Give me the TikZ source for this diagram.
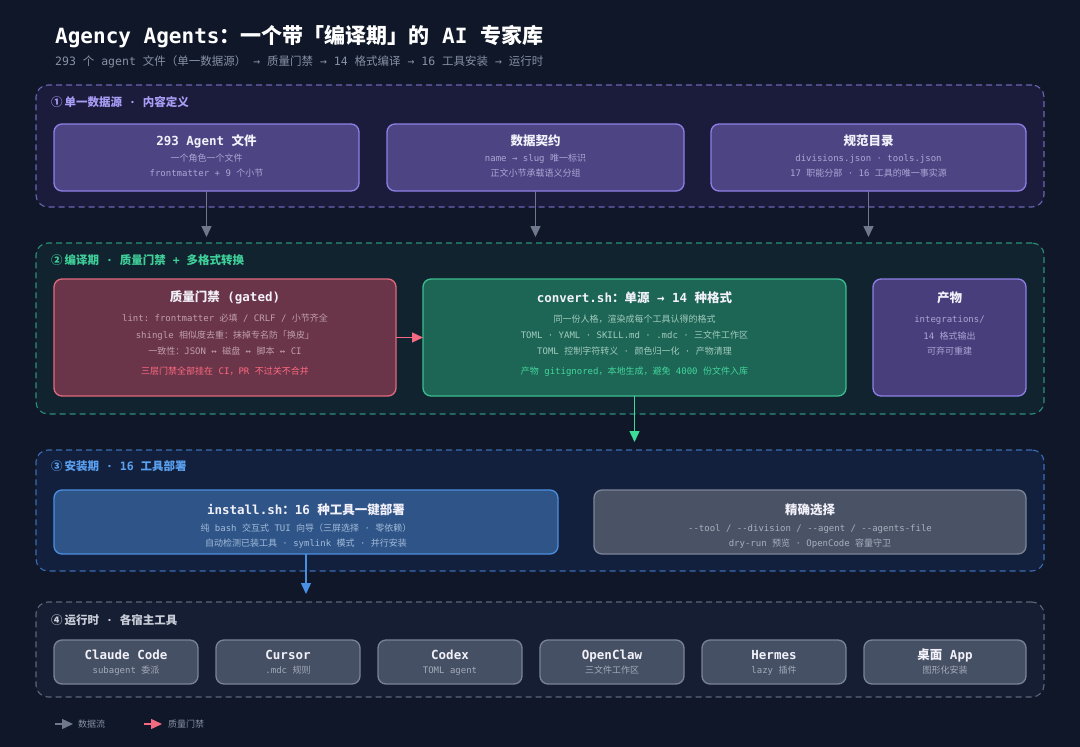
\documentclass[tikz,border=0pt]{standalone}
\usepackage{fontspec}
\setmonofont{DejaVu Sans Mono}
\renewcommand{\familydefault}{\ttdefault}
\newfontfamily\cjkfont{Noto Sans CJK SC}
\usetikzlibrary{arrows.meta}
% automatic switch to the CJK font for CJK characters
\XeTeXinterchartokenstate=1
\newXeTeXintercharclass\cjkcls
\newcount\cjkn
\def\cjkrange#1#2{\cjkn=#1\relax\loop\XeTeXcharclass\cjkn=\cjkcls\ifnum\cjkn<#2\advance\cjkn by 1\repeat}
\cjkrange{"3000}{"303F}
\cjkrange{"4E00}{"9FFF}
\cjkrange{"FF00}{"FFEF}
\cjkrange{"2460}{"24FF}
\XeTeXinterchartoks 0 \cjkcls = {\begingroup\cjkfont}
\XeTeXinterchartoks 4095 \cjkcls = {\begingroup\cjkfont}
\XeTeXinterchartoks \cjkcls 0 = {\endgroup}
\XeTeXinterchartoks \cjkcls 4095 = {\endgroup}

\definecolor{bg}{HTML}{0F1729}
\definecolor{titlecol}{HTML}{F2F1FA}
\definecolor{subtitlecol}{HTML}{8891A5}
% section 1
\definecolor{s1fill}{HTML}{1B1C3B}
\definecolor{s1line}{HTML}{6E64B4}
\definecolor{s1lab}{HTML}{A99DF5}
\definecolor{pfill}{HTML}{4D4583}
\definecolor{pline}{HTML}{8E80E6}
\definecolor{psub}{HTML}{ADA5D4}
% section 2
\definecolor{s2fill}{HTML}{122330}
\definecolor{s2line}{HTML}{2B8F77}
\definecolor{s2lab}{HTML}{3FCF98}
\definecolor{rfill}{HTML}{6A3449}
\definecolor{rline}{HTML}{E0697D}
\definecolor{rsub}{HTML}{C0A0AC}
\definecolor{rtext}{HTML}{FF6B81}
\definecolor{gfill}{HTML}{1D6656}
\definecolor{gline}{HTML}{3BBD8E}
\definecolor{gsub}{HTML}{A2CBBE}
\definecolor{gtext}{HTML}{43D69A}
\definecolor{ofill}{HTML}{473E7B}
% section 3
\definecolor{s3fill}{HTML}{13203D}
\definecolor{s3line}{HTML}{3B6CB3}
\definecolor{s3lab}{HTML}{5AA0F0}
\definecolor{bfill}{HTML}{2F5588}
\definecolor{bline}{HTML}{4B8FE0}
\definecolor{bsub}{HTML}{A2BAD8}
\definecolor{kfill}{HTML}{4A5366}
\definecolor{kline}{HTML}{7C8597}
\definecolor{ksub}{HTML}{A8B0BE}
% section 4
\definecolor{s4fill}{HTML}{161E33}
\definecolor{s4line}{HTML}{5C6579}
\definecolor{s4lab}{HTML}{C8CDD8}
\definecolor{tfill}{HTML}{465064}
\definecolor{tline}{HTML}{798398}
\definecolor{tsub}{HTML}{A3ABBA}
% arrows
\definecolor{flowcol}{HTML}{6F788C}
\definecolor{greenarr}{HTML}{3DDC97}
\definecolor{bluearr}{HTML}{4A90E2}
\definecolor{redarr}{HTML}{F26B83}

\tikzset{
  sec/.style={draw, rounded corners=12pt, line width=1.1pt, dash pattern=on 6pt off 4pt, inner sep=0pt, outer sep=0pt},
  box/.style={draw, rounded corners=8pt, line width=1.3pt, inner sep=0pt, outer sep=0pt},
  ttl/.style={anchor=base, inner sep=0pt, font=\bfseries\fontsize{12.5}{15}\selectfont, text=titlecol},
  sub/.style={anchor=base, inner sep=0pt, font=\fontsize{9}{11}\selectfont},
  lab/.style={anchor=base west, inner sep=0pt, font=\bfseries\fontsize{11.5}{14}\selectfont},
  flow/.style={-{Triangle[length=11pt,width=10pt]}, line width=1.4pt},
}
\newcommand\bx[6]{\node[#2, minimum width={(#5)-(#3)}, minimum height={(#6)-(#4)}] (#1) at ({((#3)+(#5))/2},{((#4)+(#6))/2}) {};}

\begin{document}
\begin{tikzpicture}[x=1pt,y=-1pt]
\useasboundingbox (0,0) rectangle (1080,747);
\fill[bg] (0,0) rectangle (1080,747);

% title
\node[anchor=base west, inner sep=0pt, font=\bfseries\fontsize{21}{25}\selectfont, text=white] (title) at (55,43.7) {Agency Agents：一个带「编译期」的 AI 专家库};
\node[anchor=base west, inner sep=0pt, font=\fontsize{11.5}{14}\selectfont, text=subtitlecol] (subtitle) at (55,65.2) {293 个 agent 文件（单一数据源） → 质量门禁 → 14 格式编译 → 16 工具安装 → 运行时};

% section frames
\bx{sec1}{sec, draw=s1line, fill=s1fill}{36}{85}{1044}{207}
\bx{sec2}{sec, draw=s2line, fill=s2fill}{36}{243}{1044}{414}
\bx{sec3}{sec, draw=s3line, fill=s3fill}{36}{450}{1044}{571}
\bx{sec4}{sec, draw=s4line, fill=s4fill}{36}{602}{1044}{697}

\node[lab, text=s1lab] (lab1) at (51,106.2) {①\hspace{2pt}单一数据源 · 内容定义};
\node[lab, text=s2lab] (lab2) at (51,264.2) {②\hspace{2pt}编译期 · 质量门禁 + 多格式转换};
\node[lab, text=s3lab] (lab3) at (51,470.2) {③\hspace{2pt}安装期 · 16 工具部署};
\node[lab, text=s4lab] (lab4) at (51,624.2) {④\hspace{2pt}运行时 · 各宿主工具};

% section 1 boxes
\bx{agent}{box, draw=pline, fill=pfill}{54}{124}{359}{191}
\bx{contract}{box, draw=pline, fill=pfill}{387}{124}{684}{191}
\bx{catalog}{box, draw=pline, fill=pfill}{711}{124}{1026}{191}
\node[ttl] (agent-t) at (agent |- 0,145.5) {293 Agent 文件};
\node[sub, text=psub] (agent-1) at (agent |- 0,161.2) {一个角色一个文件};
\node[sub, text=psub] (agent-2) at (agent |- 0,176.2) {frontmatter + 9 个小节};
\node[ttl] (contract-t) at (contract |- 0,145.5) {数据契约};
\node[sub, text=psub] (contract-1) at (contract |- 0,161.2) {name → slug 唯一标识};
\node[sub, text=psub] (contract-2) at (contract |- 0,176.2) {正文小节承载语义分组};
\node[ttl] (catalog-t) at (catalog |- 0,145.5) {规范目录};
\node[sub, text=psub] (catalog-1) at (catalog |- 0,161.2) {divisions.json · tools.json};
\node[sub, text=psub] (catalog-2) at (catalog |- 0,176.2) {17 职能分部 · 16 工具的唯一事实源};

% section 2 boxes
\bx{gate}{box, draw=rline, fill=rfill}{54}{279}{396}{396}
\bx{convert}{box, draw=gline, fill=gfill}{423}{279}{846}{396}
\bx{out}{box, draw=pline, fill=ofill}{873}{279}{1026}{396}
\node[ttl] (gate-t) at (gate |- 0,301.5) {质量门禁 (gated)};
\node[sub, text=rsub] (gate-1) at (gate |- 0,321.7) {lint: frontmatter 必填 / CRLF / 小节齐全};
\node[sub, text=rsub] (gate-2) at (gate |- 0,338.7) {shingle 相似度去重：抹掉专名防「换皮」};
\node[sub, text=rsub] (gate-3) at (gate |- 0,354.7) {一致性：JSON ↔ 磁盘 ↔ 脚本 ↔ CI};
\node[sub, text=rtext] (gate-4) at (gate |- 0,374.2) {三层门禁全部挂在 CI，PR 不过关不合并};
\node[ttl] (convert-t) at (convert |- 0,302.5) {convert.sh：单源 → 14 种格式};
\node[sub, text=gsub] (convert-1) at (convert |- 0,322.2) {同一份人格，渲染成每个工具认得的格式};
\node[sub, text=gsub] (convert-2) at (convert |- 0,338.2) {TOML · YAML · SKILL.md · .mdc · 三文件工作区};
\node[sub, text=gsub] (convert-3) at (convert |- 0,354.2) {TOML 控制字符转义 · 颜色归一化 · 产物清理};
\node[sub, text=gtext] (convert-4) at (convert |- 0,374.2) {产物 gitignored，本地生成，避免 4000 份文件入库};
\node[ttl] (out-t) at (out |- 0,302.5) {产物};
\node[sub, text=psub] (out-1) at (out |- 0,322.2) {integrations/};
\node[sub, text=psub] (out-2) at (out |- 0,339.2) {14 格式输出};
\node[sub, text=psub] (out-3) at (out |- 0,354.2) {可弃可重建};

% section 3 boxes
\bx{install}{box, draw=bline, fill=bfill}{54}{490}{558}{554}
\bx{select}{box, draw=kline, fill=kfill}{594}{490}{1026}{554}
\node[ttl] (install-t) at (install |- 0,514.5) {install.sh：16 种工具一键部署};
\node[sub, text=bsub] (install-1) at (install |- 0,531.7) {纯 bash 交互式 TUI 向导（三屏选择 · 零依赖）};
\node[sub, text=bsub] (install-2) at (install |- 0,546.2) {自动检测已装工具 · symlink 模式 · 并行安装};
\node[ttl] (select-t) at (select |- 0,514.5) {精确选择};
\node[sub, text=ksub] (select-1) at (select |- 0,531.7) {-{}-tool / -{}-division / -{}-agent / -{}-agents-file};
\node[sub, text=ksub] (select-2) at (select |- 0,546.2) {dry-run 预览 · OpenCode 容量守卫};

% section 4 boxes
\bx{claude}{box, draw=tline, fill=tfill}{54}{640}{198}{684}
\bx{cursor}{box, draw=tline, fill=tfill}{216}{640}{360}{684}
\bx{codex}{box, draw=tline, fill=tfill}{378}{640}{522}{684}
\bx{openclaw}{box, draw=tline, fill=tfill}{540}{640}{684}{684}
\bx{hermes}{box, draw=tline, fill=tfill}{702}{640}{846}{684}
\bx{desktop}{box, draw=tline, fill=tfill}{864}{640}{1026}{684}
\node[ttl] (claude-t) at (claude |- 0,659) {Claude Code};
\node[sub, text=tsub] (claude-1) at (claude |- 0,673.2) {subagent 委派};
\node[ttl] (cursor-t) at (cursor |- 0,659) {Cursor};
\node[sub, text=tsub] (cursor-1) at (cursor |- 0,673.2) {.mdc 规则};
\node[ttl] (codex-t) at (codex |- 0,659) {Codex};
\node[sub, text=tsub] (codex-1) at (codex |- 0,673.2) {TOML agent};
\node[ttl] (openclaw-t) at (openclaw |- 0,659) {OpenClaw};
\node[sub, text=tsub] (openclaw-1) at (openclaw |- 0,673.2) {三文件工作区};
\node[ttl] (hermes-t) at (hermes |- 0,659) {Hermes};
\node[sub, text=tsub] (hermes-1) at (hermes |- 0,673.2) {lazy 插件};
\node[ttl] (desktop-t) at (desktop |- 0,659) {桌面 App};
\node[sub, text=tsub] (desktop-1) at (desktop |- 0,673.2) {图形化安装};

% connectors
\draw[flow, draw=flowcol, fill=flowcol, shorten >=6pt] (agent.south) -- (agent.south |- sec2.north);
\draw[flow, draw=flowcol, fill=flowcol, shorten >=6pt] (contract.south) -- (contract.south |- sec2.north);
\draw[flow, draw=flowcol, fill=flowcol, shorten >=6pt] (catalog.south) -- (catalog.south |- sec2.north);
\draw[flow, draw=redarr, fill=redarr] (gate.east) -- (convert.west);
\draw[flow, draw=greenarr, fill=greenarr, shorten >=8pt] (convert.south) -- (convert.south |- sec3.north);
\draw[flow, draw=bluearr, fill=bluearr, shorten >=8pt] (install.south) -- (install.south |- sec4.north);

% legend
\coordinate (lg1a) at (55,724);
\coordinate (lg1b) at (73,724);
\coordinate (lg2a) at (144,724);
\coordinate (lg2b) at (162,724);
\draw[flow, draw=flowcol, fill=flowcol] (lg1a) -- (lg1b);
\draw[flow, draw=redarr, fill=redarr] (lg2a) -- (lg2b);
\node[sub, anchor=base west, text=subtitlecol] (lg1t) at (78,727.2) {数据流};
\node[sub, anchor=base west, text=subtitlecol] (lg2t) at (168,727.2) {质量门禁};
\end{tikzpicture}
\end{document}
